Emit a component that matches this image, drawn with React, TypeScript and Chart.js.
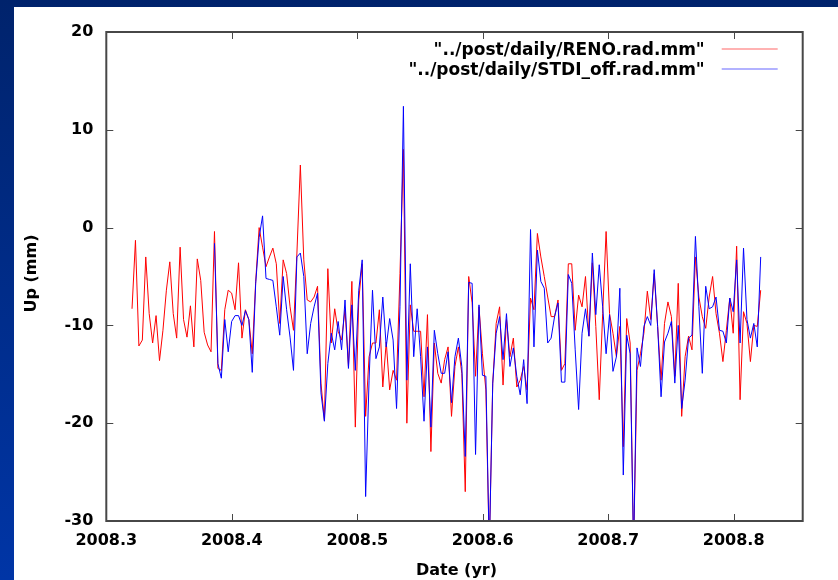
import { useEffect, useRef } from "react";
import { Chart, registerables } from "chart.js";

Chart.register(...registerables);

// Daily vertical positions (mm); first sample epoch in decimal years
const firstEpoch = 2008.3205;
const daysPerYear = 365.25;
// STDI_off starts this many days after RENO
const stdiFirstDay = 24;

const renoUp = [
  -8.3, -1.3, -12.1, -11.5, -3.0, -8.8, -11.8, -9.0, -13.6, -10.5,
  -6.4, -3.5, -8.8, -11.3, -2.0, -9.4, -11.2, -8.0, -12.2, -3.2,
  -5.4, -10.7, -12.0, -12.7, -0.4, -14.4, -14.6, -8.4, -6.4, -6.7,
  -8.4, -3.6, -11.3, -8.4, -9.4, -12.9, -5.5, 0.0, -2.0, -4.0,
  -3.0, -2.1, -3.7, -9.8, -3.3, -4.7, -8.1, -10.5, -2.6, 6.4,
  -3.3, -7.4, -7.6, -7.1, -6.0, -15.9, -19.7, -4.2, -11.8, -8.3,
  -10.6, -11.5, -8.4, -14.2, -5.5, -20.4, -7.4, -3.7, -19.3, -13.2,
  -11.8, -11.8, -8.4, -16.3, -11.7, -16.6, -14.6, -15.6, -4.7, 8.0,
  -20.0, -7.9, -10.6, -10.6, -10.6, -17.3, -8.9, -22.9, -11.8, -14.9,
  -15.9, -13.5, -12.2, -19.3, -14.2, -12.2, -14.9, -27.0, -5.0, -7.7,
  -15.2, -8.1, -12.9, -16.6, -33.0, -15.9, -9.8, -8.1, -16.1, -9.4,
  -13.2, -11.3, -16.3, -15.6, -14.2, -16.6, -7.2, -8.4, -0.6, -3.0,
  -5.0, -7.1, -9.1, -9.1, -7.4, -14.6, -13.9, -3.7, -3.7, -10.5,
  -6.9, -8.1, -5.0, -11.1, -3.6, -10.1, -17.6, -8.8, -0.4, -8.8,
  -10.8, -13.2, -10.1, -22.4, -9.3, -11.8, -33.0, -14.6, -12.9, -10.8,
  -6.5, -9.4, -4.7, -10.1, -15.6, -9.8, -7.6, -9.1, -15.2, -5.7,
  -19.3, -13.2, -11.1, -12.5, -3.0, -7.1, -9.1, -10.3, -7.1, -5.0,
  -8.8, -10.8, -13.7, -10.5, -7.2, -10.8, -1.9, -17.6, -8.6, -9.8,
  -13.7, -10.0, -10.1, -6.4,
];

const stdiUp = [
  -1.6, -13.9, -15.4, -9.4, -12.7, -9.6, -9.0, -9.0, -10.0, -8.5,
  -9.4, -14.8, -5.7, -1.0, 1.2, -5.2, -5.3, -5.4, -8.1, -11.0,
  -5.0, -8.4, -11.2, -14.6, -3.0, -2.6, -5.0, -12.9, -9.8, -8.1,
  -6.7, -16.9, -19.8, -13.9, -10.8, -12.5, -9.6, -12.5, -7.4, -14.4,
  -7.9, -14.6, -6.4, -3.3, -27.5, -15.6, -6.4, -13.4, -12.2, -7.1,
  -12.2, -9.3, -11.5, -18.5, -8.1, 12.4, -15.6, -3.7, -13.2, -8.3,
  -13.2, -19.8, -12.2, -20.4, -10.5, -12.9, -14.9, -14.9, -12.7, -17.9,
  -13.2, -11.3, -14.2, -23.4, -5.6, -5.7, -23.2, -7.9, -15.1, -15.2,
  -33.0, -15.9, -10.8, -9.1, -13.5, -8.8, -14.2, -12.3, -15.2, -17.1,
  -13.5, -18.0, -0.2, -12.2, -2.3, -5.5, -6.2, -11.8, -11.3, -9.1,
  -7.7, -15.8, -15.8, -4.8, -5.7, -12.5, -18.6, -10.8, -8.3, -11.1,
  -2.6, -8.9, -3.8, -8.1, -12.9, -8.9, -14.7, -13.2, -6.2, -25.3,
  -11.0, -12.9, -33.0, -12.3, -14.2, -10.1, -9.1, -10.0, -4.3, -10.1,
  -17.3, -11.7, -10.8, -9.6, -15.9, -10.0, -18.5, -15.6, -11.3, -11.0,
  -0.9, -8.1, -14.9, -6.0, -8.3, -8.1, -7.1, -10.5, -10.6, -11.8,
  -7.2, -8.6, -3.3, -11.8, -2.1, -9.4, -11.3, -9.8, -12.2, -3.0,
];

const xTickValues = [2008.3, 2008.4, 2008.5, 2008.6, 2008.7, 2008.8];
const yTickValues = [-30, -20, -10, 0, 10, 20];
const seriesLabels = ['"../post/daily/RENO.rad.mm"', '"../post/daily/STDI_off.rad.mm"'];
const seriesColors = ["#ff0000", "#0000ff"];
const xTitle = "Date (yr)";
const yTitle = "Up (mm)";

const FONT = "'DejaVu Sans', 'Liberation Sans', sans-serif";

// Frame with inward ticks on all four sides, axis titles and the key
const framePlugin = {
  id: "gnuFrame",
  afterDraw(chart: any) {
    const { ctx, chartArea: a, scales } = chart;
    const len = 7;
    ctx.save();
    ctx.strokeStyle = "#474747";
    ctx.lineWidth = 1;
    ctx.beginPath();
    for (const v of xTickValues) {
      const px = Math.round(scales.x.getPixelForValue(v)) + 0.5;
      ctx.moveTo(px, a.bottom);
      ctx.lineTo(px, a.bottom - len);
      ctx.moveTo(px, a.top);
      ctx.lineTo(px, a.top + len);
    }
    for (const v of yTickValues) {
      const py = Math.round(scales.y.getPixelForValue(v)) + 0.5;
      ctx.moveTo(a.left, py);
      ctx.lineTo(a.left + len, py);
      ctx.moveTo(a.right, py);
      ctx.lineTo(a.right - len, py);
    }
    ctx.stroke();
    ctx.lineWidth = 2;
    ctx.strokeRect(a.left, a.top, a.right - a.left, a.bottom - a.top);

    ctx.fillStyle = "#000";
    ctx.font = `bold 16px ${FONT}`;
    ctx.textAlign = "center";
    ctx.textBaseline = "middle";
    ctx.fillText(xTitle, (a.left + a.right) / 2 + 2, chart.height - 9);
    ctx.save();
    ctx.translate(18, (a.top + a.bottom) / 2 - 3);
    ctx.rotate(-Math.PI / 2);
    ctx.fillText(yTitle, 0, 0);
    ctx.restore();

    // key
    ctx.font = `bold 17px ${FONT}`;
    ctx.textAlign = "right";
    ctx.textBaseline = "alphabetic";
    const textRight = a.right - 98;
    seriesLabels.forEach((label, k) => {
      const base = a.top + 23 + k * 20;
      ctx.fillText(label, textRight, base);
      ctx.strokeStyle = seriesColors[k];
      ctx.globalAlpha = 0.3;
      ctx.lineWidth = 2;
      ctx.beginPath();
      ctx.moveTo(textRight + 17, base - 6);
      ctx.lineTo(textRight + 73, base - 6);
      ctx.stroke();
      ctx.globalAlpha = 1;
    });
    ctx.restore();
  },
};

export default function App() {
  const canvasRef = useRef<HTMLCanvasElement | null>(null);

  useEffect(() => {
    const canvas = canvasRef.current;
    if (!canvas) return;
    const renoPoints = renoUp.map((v, i) => ({ x: firstEpoch + i / daysPerYear, y: v }));
    const stdiPoints = stdiUp.map((v, i) => ({
      x: firstEpoch + (i + stdiFirstDay) / daysPerYear,
      y: v,
    }));
    const tickFont = { family: FONT, size: 16, weight: "bold" as const };
    const chart = new Chart(canvas, {
      type: "line",
      data: {
        datasets: [
          {
            label: seriesLabels[0],
            data: renoPoints,
            borderColor: seriesColors[0],
            borderWidth: 1,
            pointRadius: 0,
            tension: 0,
            order: 1,
          },
          {
            label: seriesLabels[1],
            data: stdiPoints,
            borderColor: seriesColors[1],
            borderWidth: 1,
            pointRadius: 0,
            tension: 0,
            order: 0,
          },
        ],
      },
      options: {
        responsive: false,
        animation: false,
        parsing: false,
        layout: { padding: { left: 0, top: 25, right: 35.3, bottom: 0 } },
        plugins: { legend: { display: false }, tooltip: { enabled: false } },
        scales: {
          x: {
            type: "linear",
            min: 2008.3,
            max: 2008.855,
            afterBuildTicks: (s: any) => {
              s.ticks = xTickValues.map((value) => ({ value }));
            },
            afterFit: (s: any) => {
              s.height = 59;
            },
            grid: { display: false, drawTicks: false },
            border: { display: false },
            ticks: {
              autoSkip: false,
              maxRotation: 0,
              padding: 10,
              color: "#000",
              font: tickFont,
              callback: (v: any) => Number(v).toFixed(1),
            },
          },
          y: {
            type: "linear",
            min: -30,
            max: 20,
            afterBuildTicks: (s: any) => {
              s.ticks = yTickValues.map((value) => ({ value }));
            },
            afterFit: (s: any) => {
              s.width = 92.3;
            },
            grid: { display: false, drawTicks: false },
            border: { display: false },
            ticks: { padding: 13, color: "#000", font: tickFont },
          },
        },
      },
      plugins: [framePlugin],
    });
    return () => chart.destroy();
  }, []);

  return (
    <div
      style={{
        position: "fixed",
        left: 0,
        top: 0,
        width: 838,
        height: 580,
        background: "linear-gradient(to bottom, #00236c, #0035a6)",
        overflow: "hidden",
      }}
    >
      <div
        style={{
          position: "absolute",
          left: 14,
          top: 7,
          width: 824,
          height: 573,
          background: "#fff",
        }}
      >
        <canvas ref={canvasRef} width={824} height={573} style={{ display: "block" }} />
      </div>
    </div>
  );
}
